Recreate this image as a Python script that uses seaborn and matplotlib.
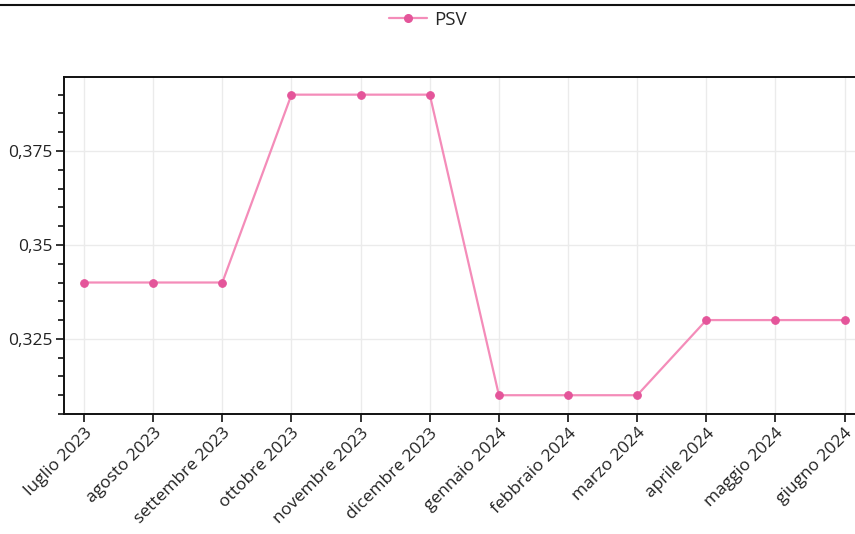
import matplotlib
matplotlib.use("Agg")
import matplotlib.pyplot as plt
import matplotlib.ticker as mticker
from matplotlib.lines import Line2D
import seaborn as sns
import pandas as pd

months = ["luglio 2023", "agosto 2023", "settembre 2023", "ottobre 2023",
          "novembre 2023", "dicembre 2023", "gennaio 2024", "febbraio 2024",
          "marzo 2024", "aprile 2024", "maggio 2024", "giugno 2024"]
psv = [0.34, 0.34, 0.34, 0.39, 0.39, 0.39, 0.31, 0.31, 0.31, 0.33, 0.33, 0.33]
series_name = "PSV"
y_ticks = [0.325, 0.35, 0.375]
y_tick_labels = ["0,325", "0,35", "0,375"]

sns.set_theme(style="white")
plt.rcParams['font.family'] = ['Open Sans', 'DejaVu Sans']

df = pd.DataFrame({"pos": range(len(months)), "val": psv, "serie": series_name})

fig = plt.figure(figsize=(8.55, 5.34), dpi=100)
ax = fig.add_axes([64/855, 1-414/534, 1-64/855, (414-77)/534])

sns.lineplot(data=df, x="pos", y="val", ax=ax, color="#f48cb9", linewidth=1.6,
             marker="o", markersize=5.5, markerfacecolor="#e4559a",
             markeredgecolor="#e4559a", label=series_name, legend=False)

ax.set_xlim(-0.29, 11.15)
ax.set_ylim(0.305, 0.3947)
ax.set_xticks(list(range(len(months))))
ax.set_xticklabels(months, rotation=45, ha="right", rotation_mode="anchor",
                   fontsize=12.5, color="#222222")
ax.set_yticks(y_ticks)
ax.set_yticklabels(y_tick_labels, fontsize=12.5, color="#222222")
ax.yaxis.set_minor_locator(mticker.MultipleLocator(0.005))
ax.set_xlabel("")
ax.set_ylabel("")

ax.grid(True, which="major", color="#ebebeb", linewidth=1)
ax.set_axisbelow(True)
ax.tick_params(axis="both", which="major", length=6, width=1.2, color="#111111",
               bottom=True, left=True, pad=2)
ax.tick_params(axis="y", which="minor", length=4, width=1.2, color="#111111", left=True)
for side in ["left", "bottom", "top"]:
    ax.spines[side].set_color("#111111")
    ax.spines[side].set_linewidth(1.4)
ax.spines["right"].set_visible(False)

handles = [Line2D([0], [0], color="#f48cb9", linewidth=1.6, marker="o",
                  markersize=5.5, markerfacecolor="#e4559a", markeredgecolor="#e4559a")]
fig.legend(handles, [series_name], loc="center", bbox_to_anchor=(428/855, 1-20/534),
           frameon=False, fontsize=13.5, handlelength=2.0, handletextpad=0.4)

fig.add_artist(Line2D([0, 1], [1-4.5/534, 1-4.5/534], color="#111111",
                      linewidth=1.5, transform=fig.transFigure))

fig.savefig("out.png", dpi=100)
